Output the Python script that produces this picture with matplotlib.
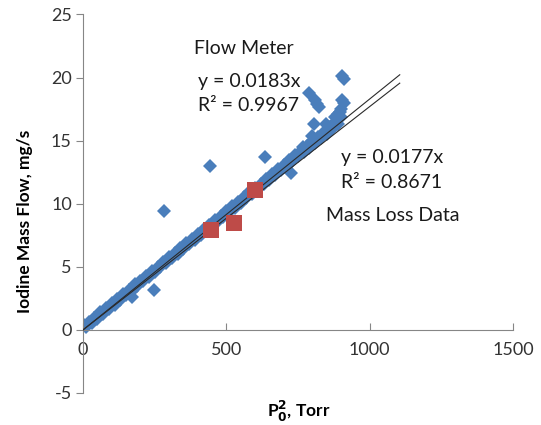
import matplotlib
matplotlib.use('Agg')
import matplotlib.pyplot as plt
import numpy as np

plt.rcParams['font.family'] = ['Lato', 'DejaVu Sans']
plt.rcParams['axes.unicode_minus'] = False

# flow meter readings, main band (two interleaved rows)
band_x_a = [0, 20, 40, 60, 80, 100, 120, 140, 160, 180, 200, 220, 240, 260, 280,
            300, 320, 340, 360, 380, 400, 420, 440, 460, 480, 500, 520, 540, 560,
            580, 600, 620, 640, 660, 680, 700, 720, 740, 760, 780, 800, 820, 840,
            860, 880, 900]
band_y_a = [0.45, 0.62, 0.95, 1.40, 1.70, 2.10, 2.45, 2.85, 3.15, 3.60, 3.90, 4.30,
            4.65, 5.00, 5.40, 5.75, 6.10, 6.50, 6.85, 7.20, 7.60, 7.95, 8.35, 8.70,
            9.05, 9.40, 9.80, 10.15, 10.50, 10.90, 11.25, 11.60, 12.00, 12.35,
            12.75, 13.10, 13.45, 13.85, 14.20, 14.60, 14.95, 15.30, 15.70, 16.05,
            16.45, 16.90]
band_x_b = [10, 30, 50, 70, 90, 110, 130, 150, 170, 190, 210, 230, 250, 270, 290,
            310, 330, 350, 370, 390, 410, 430, 450, 470, 490, 510, 530, 550, 570,
            590, 610, 630, 650, 670, 690, 710, 730, 750, 770, 790, 810, 830, 850,
            870, 890]
band_y_b = [0.25, 0.55, 0.90, 1.30, 1.65, 2.00, 2.40, 2.75, 3.10, 3.50, 3.85, 4.20,
            4.60, 4.95, 5.30, 5.70, 6.05, 6.40, 6.80, 7.15, 7.50, 7.90, 8.25, 8.60,
            8.95, 9.35, 9.70, 10.05, 10.45, 10.80, 11.15, 11.55, 11.90, 12.25,
            12.65, 13.00, 13.35, 13.75, 14.10, 14.45, 14.85, 15.20, 15.55, 15.95,
            16.35]
# scattered flow meter readings
outlier_x = [905, 912, 787, 810, 818, 825, 905, 912, 890, 897, 806, 848, 766, 800,
             635, 443, 724, 282, 248, 170, 900, 880]
outlier_y = [20.1, 19.9, 18.75, 18.2, 17.9, 17.7, 18.2, 18.0, 17.1, 17.3, 16.3,
             16.3, 14.5, 15.4, 13.7, 13.0, 12.4, 9.45, 3.2, 2.6, 17.5, 16.9]

# mass loss measurements
mass_x = [445, 527, 600]
mass_y = [7.95, 8.5, 11.1]

# trend lines through the origin
flow_slope = 0.0183
mass_slope = 0.0177
trend_x = np.array([0, 1105])

flow_x = band_x_a + band_x_b + outlier_x
flow_y = band_y_a + band_y_b + outlier_y

fig = plt.figure(figsize=(5.41, 4.25), dpi=100)
ax = fig.add_axes([0.1534, 0.0753, 0.7948, 0.8906])

ax.plot(flow_x, flow_y, linestyle='none', marker='D', markersize=7.5,
        color='#4a7ebb', markeredgewidth=0, zorder=2)
ax.plot(trend_x, flow_slope * trend_x, color='#2a2a2a', linewidth=0.8, zorder=3)
ax.plot(trend_x, mass_slope * trend_x, color='#2a2a2a', linewidth=0.8, zorder=3)
ax.plot(mass_x, mass_y, linestyle='none', marker='s', markersize=12,
        color='#be4b48', markeredgewidth=0, zorder=4)

txt = dict(fontsize=14, color='#1a1a1a')
ax.text(560, 22.3, 'Flow Meter', ha='center', va='center', **txt)
ax.text(400, 19.7, 'y = 0.0183x', ha='left', va='center', **txt)
ax.text(400, 17.75, 'R² = 0.9967', ha='left', va='center', **txt)
ax.text(901, 13.7, 'y = 0.0177x', ha='left', va='center', **txt)
ax.text(901, 11.65, 'R² = 0.8671', ha='left', va='center', **txt)
ax.text(846, 9.1, 'Mass Loss Data', ha='left', va='center', **txt)

ax.set_xlim(0, 1500)
ax.set_ylim(-5, 25)
ax.set_xticks([0, 500, 1000, 1500])
ax.set_yticks([-5, 0, 5, 10, 15, 20, 25])

ax.spines['top'].set_visible(False)
ax.spines['right'].set_visible(False)
ax.spines['bottom'].set_position(('data', 0))
ax.spines['left'].set_color('#868686')
ax.spines['bottom'].set_color('#868686')
ax.tick_params(axis='x', direction='in', length=5, color='#868686', pad=9,
               labelsize=13, labelcolor='#333333')
ax.tick_params(axis='y', direction='out', length=5, color='#868686', pad=3,
               labelsize=13, labelcolor='#333333')

fig.text(0.046, 0.48, 'Iodine Mass Flow, mg/s', rotation=90, ha='center',
         va='center', fontsize=12.5, fontweight='bold')
fig.text(0.552, 0.031, r'P$_\mathbf{0}^\mathbf{2}$, Torr', ha='center',
         va='center', fontsize=12.5, fontweight='bold')

plt.savefig('out.png', dpi=100)
plt.close()
